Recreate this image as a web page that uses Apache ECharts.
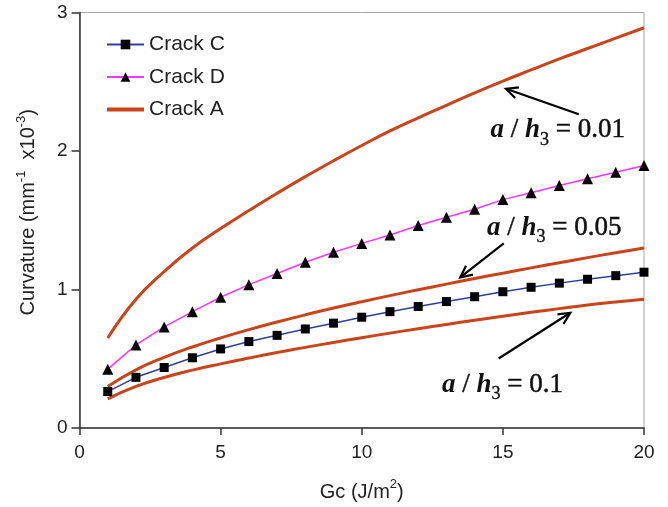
<!DOCTYPE html>
<html>
<head>
<meta charset="utf-8">
<script src="https://cdn.jsdelivr.net/npm/echarts@6/dist/echarts.min.js"></script>
<style>
html,body{margin:0;padding:0;background:#fff;}
#chart{width:668px;height:507px;}
</style>
</head>
<body>
<div id="chart"></div>
<script>
// ---- data ----
const gc = [1,2,3,4,5,6,7,8,9,10,11,12,13,14,15,16,17,18,19,20];
const crackC = [0.263,0.366,0.437,0.507,0.571,0.624,0.669,0.715,0.757,0.80,0.84,0.877,0.913,0.948,0.984,1.016,1.046,1.074,1.10,1.125];
const crackD = [0.425,0.60,0.73,0.84,0.944,1.035,1.116,1.197,1.269,1.333,1.393,1.462,1.522,1.58,1.649,1.699,1.751,1.799,1.847,1.895];
const crackA_001 = [0.65,0.93,1.13,1.30,1.44,1.57,1.695,1.815,1.93,2.04,2.145,2.24,2.33,2.42,2.505,2.585,2.665,2.74,2.815,2.89];
const crackA_005 = [0.30,0.42,0.51,0.585,0.65,0.71,0.765,0.817,0.866,0.912,0.956,0.998,1.039,1.079,1.118,1.156,1.193,1.23,1.266,1.30];
const crackA_01 = [0.21,0.30,0.365,0.418,0.463,0.505,0.545,0.582,0.618,0.652,0.685,0.717,0.748,0.778,0.807,0.835,0.862,0.888,0.91,0.93];
const seriesNames = ['Crack C','Crack D','Crack A'];
// annotation labels and their anchors (data coordinates)
const annLabels = ['0.01','0.05','0.1'];
const annTextAt = [[14.56,2.086],[14.44,1.384],[12.84,0.246]];
const annArrowFrom = [[17.69,2.265],[15.03,1.333],[14.85,0.502]];
const annArrowTo = [[15.11,2.449],[13.49,1.087],[17.39,0.832]];

const pair = (xs, ys) => xs.map((x,i)=>[x, ys[i]]);
const sans = '"Liberation Sans", Arial, Helvetica, sans-serif';
const orange = '#c9441a';

const chart = echarts.init(document.getElementById('chart'), null, {renderer:'canvas'});
const nameRich = {
  n:{fontSize:20,color:'#222',fontFamily:sans, lineHeight:24, verticalAlign:'bottom'},
  s:{fontSize:13,color:'#222',fontFamily:sans,lineHeight:24, verticalAlign:'top'}
};
const option = {
  animation:false,
  backgroundColor:'#fff',
  textStyle:{fontFamily:sans},
  grid:{left:79.5, right:24, top:12.5, bottom:76, show:true, borderColor:'#a8a8a8', borderWidth:1},
  legend:{
    data:[
      {name:seriesNames[0]},
      {name:seriesNames[1]},
      {name:seriesNames[2], icon:'path://M0,0 L37,0 L37,4 L0,4 Z', itemStyle:{color:orange}}
    ],
    orient:'vertical', left:101, top:29,
    itemWidth:37, itemHeight:12, itemGap:11.5,
    textStyle:{fontSize:21, color:'#222', fontFamily:sans, lineHeight:21}
  },
  xAxis:{
    type:'value', min:0, max:20, interval:5,
    name:'{n|Gc (J/m}{s|2}{n|)}', nameLocation:'middle', nameGap:50,
    nameTextStyle:{rich:nameRich},
    axisLine:{lineStyle:{color:'#333', width:1.5}},
    axisTick:{inside:false, length:7, lineStyle:{color:'#333', width:1.5}},
    axisLabel:{fontSize:19, color:'#222', margin:15, fontFamily:sans},
    splitLine:{show:false}
  },
  yAxis:{
    type:'value', min:0, max:3, interval:1,
    name:'{n|Curvature (mm}{s|-1}{n|  x10}{s|-3}{n|)}', nameLocation:'middle', nameGap:41, nameRotate:90,
    nameTextStyle:{rich:nameRich, padding:[0,0,0,16]},
    axisLine:{show:true, lineStyle:{color:'#333', width:1.5}},
    axisTick:{show:true, inside:false, length:8, lineStyle:{color:'#333', width:1.5}},
    axisLabel:{fontSize:19, color:'#222', margin:12, fontFamily:sans},
    splitLine:{show:false}
  },
  series:[
    {name:'Crack C', type:'line', data:pair(gc, crackC), symbol:'rect', symbolSize:9,
      lineStyle:{color:'#2c3fa0', width:1.5}, itemStyle:{color:'#000'}, color:'#2c3fa0', z:4},
    {name:'Crack D', type:'line', data:pair(gc, crackD), symbol:'triangle', symbolSize:11,
      lineStyle:{color:'#ff33ff', width:1.5}, itemStyle:{color:'#000'}, color:'#ff33ff', z:4},
    {name:'Crack A', type:'line', data:pair(gc, crackA_001), smooth:true, symbol:'none',
      lineStyle:{color:orange, width:3}, itemStyle:{color:orange}, color:orange, z:3},
    {name:'Crack A', type:'line', data:pair(gc, crackA_005), smooth:true, symbol:'none',
      lineStyle:{color:orange, width:3}, itemStyle:{color:orange}, color:orange, z:3},
    {name:'Crack A', type:'line', data:pair(gc, crackA_01), smooth:true, symbol:'none',
      lineStyle:{color:orange, width:3}, itemStyle:{color:orange}, color:orange, z:3}
  ]
};
chart.setOption(option);

// annotations
const serif = '"Liberation Serif", "DejaVu Serif", "Times New Roman", serif';
const graphics = [];
annLabels.forEach((lab, k) => {
  const p0 = chart.convertToPixel({gridIndex:0}, annArrowFrom[k]);
  const p1 = chart.convertToPixel({gridIndex:0}, annArrowTo[k]);
  const ang = Math.atan2(p1[1]-p0[1], p1[0]-p0[0]);
  const L = 13, spread = 0.45;
  const a1 = [p1[0]-L*Math.cos(ang-spread), p1[1]-L*Math.sin(ang-spread)];
  const a2 = [p1[0]-L*Math.cos(ang+spread), p1[1]-L*Math.sin(ang+spread)];
  graphics.push({type:'line', z:20, shape:{x1:p0[0], y1:p0[1], x2:p1[0], y2:p1[1]}, style:{stroke:'#000', lineWidth:2.2}});
  graphics.push({type:'polyline', z:20, shape:{points:[a1, p1, a2]}, style:{stroke:'#000', lineWidth:2.2, fill:null}});
  const t = chart.convertToPixel({gridIndex:0}, annTextAt[k]);
  graphics.push({
    type:'text', z:20, x:t[0], y:t[1]-22.2,
    style:{
      text:'{i|a}{n| / }{i|h}{s|3}{n| = ' + lab + '}',
      align:'left', verticalAlign:'top',
      rich:{
        i:{fontFamily:serif, fontSize:27, fontStyle:'italic', fontWeight:'bold', fill:'#111', lineHeight:27, verticalAlign:'top'},
        n:{fontFamily:serif, fontSize:27, fill:'#111', stroke:'#111', lineWidth:0.5, lineHeight:27, verticalAlign:'top'},
        s:{fontFamily:serif, fontSize:18, fill:'#111', stroke:'#111', lineWidth:0.4, lineHeight:18, padding:[14,0,0,0], verticalAlign:'top'}
      }
    }
  });
});
chart.setOption({graphic:graphics});
</script>
</body>
</html>
